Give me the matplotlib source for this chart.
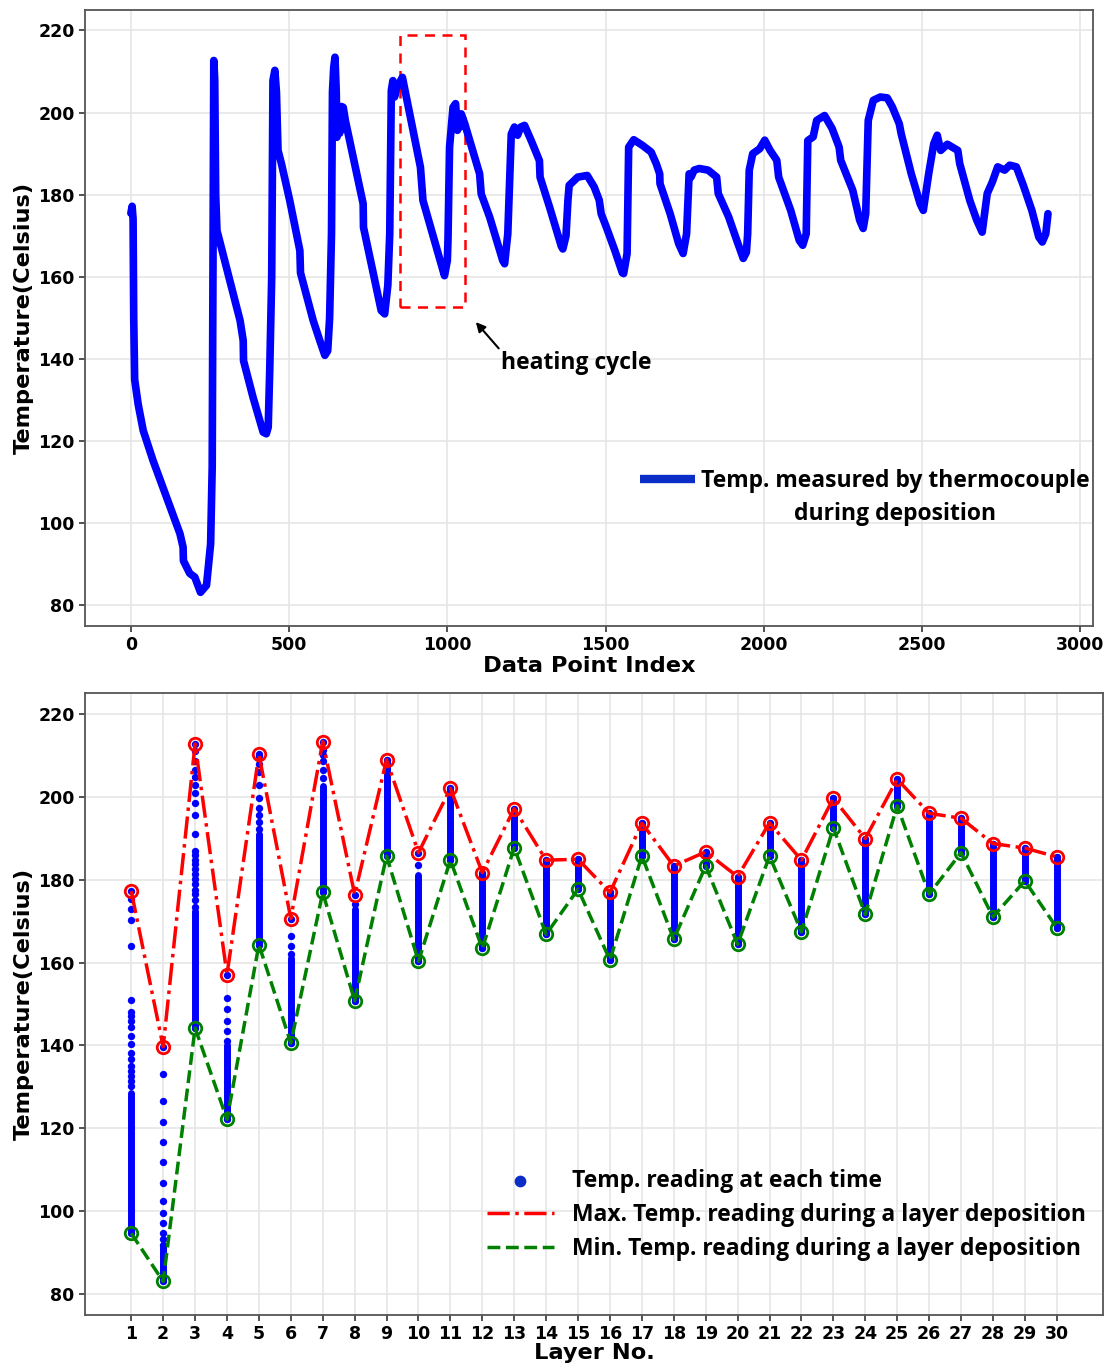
import numpy as np
import matplotlib
matplotlib.use("Agg")
import matplotlib.pyplot as plt
from matplotlib.patches import Rectangle

# ---- data ----
# thermocouple trace (key vertices of the recorded curve)
trace_idx = [0, 4, 7, 9, 12, 23, 39, 70, 155, 165, 166, 186, 202, 220, 239,
             252, 257, 260, 262, 265, 268, 272, 280, 345, 355, 356, 386, 418,
             428, 434, 439, 445, 447, 449, 455, 460, 465, 476, 502, 534, 536,
             576, 597, 613, 622, 628, 634, 637, 641, 645, 649, 651, 655, 660,
             665, 671, 678, 734, 735, 791, 802, 812, 818, 823, 828, 833, 840,
             858, 915, 923, 986, 991, 1000, 1002, 1007, 1018, 1026, 1032, 1036,
             1040, 1044, 1055, 1102, 1107, 1134, 1175, 1181, 1191, 1202, 1212,
             1222, 1232, 1244, 1265, 1291, 1293, 1323, 1360, 1365, 1375, 1381,
             1385, 1412, 1442, 1464, 1480, 1486, 1502, 1529, 1553, 1557, 1568,
             1573, 1589, 1617, 1644, 1660, 1671, 1672, 1704, 1731, 1745, 1756,
             1764, 1770, 1780, 1796, 1824, 1851, 1856, 1889, 1911, 1935, 1945,
             1949, 1954, 1965, 1987, 2003, 2020, 2041, 2047, 2085, 2112, 2123,
             2134, 2139, 2156, 2167, 2192, 2216, 2238, 2243, 2281, 2303, 2314,
             2322, 2330, 2346, 2368, 2390, 2406, 2428, 2434, 2466, 2494, 2504,
             2521, 2537, 2548, 2559, 2580, 2613, 2619, 2651, 2673, 2690, 2706,
             2722, 2739, 2761, 2777, 2798, 2820, 2847, 2869, 2880, 2891, 2898]
trace_temp = [175.5, 177.2, 174.0, 150.0, 135.0, 129.0, 122.6, 115.3, 97.5, 94.2,
              90.9, 87.8, 86.9, 83.2, 84.9, 95.0, 113.7, 170.0, 212.7, 208.0,
              180.0, 171.3, 168.9, 149.4, 144.5, 139.6, 130.7, 122.2, 121.8,
              123.4, 138.0, 160.0, 185.0, 207.8, 210.3, 205.0, 190.8, 187.5,
              178.6, 166.4, 161.0, 149.4, 144.5, 140.9, 142.0, 150.0, 170.6,
              205.0, 211.0, 213.5, 205.0, 194.0, 200.0, 195.0, 201.5, 201.3,
              198.0, 177.8, 172.1, 151.8, 151.0, 158.0, 170.5, 205.4, 207.8,
              203.8, 206.0, 208.6, 186.7, 178.6, 161.6, 160.3, 164.0, 168.9,
              191.6, 201.3, 202.2, 195.7, 199.0, 196.5, 199.7, 197.3, 185.1,
              180.2, 174.5, 164.0, 163.2, 170.5, 194.8, 196.5, 194.5, 196.5,
              196.9, 193.2, 188.3, 184.3, 177.0, 167.5, 166.8, 170.0, 178.6,
              182.3, 184.3, 184.7, 181.9, 178.7, 175.4, 172.2, 166.5, 161.0,
              160.8, 165.7, 191.6, 193.4, 192.0, 190.4, 187.6, 185.1, 182.7,
              175.4, 168.1, 165.7, 170.5, 185.1, 184.3, 186.0, 186.4, 186.0,
              184.3, 180.3, 174.6, 169.7, 164.5, 166.0, 170.5, 186.0, 190.0,
              191.2, 193.3, 190.8, 188.4, 184.3, 176.2, 168.9, 167.7, 170.5,
              193.2, 194.1, 198.1, 199.3, 196.1, 191.6, 188.4, 181.1, 173.8,
              171.8, 175.4, 198.1, 203.0, 203.8, 203.6, 201.4, 197.3, 194.9,
              185.1, 177.8, 176.2, 185.1, 192.4, 194.5, 190.8, 192.3, 190.8,
              187.6, 178.6, 173.8, 170.9, 180.3, 183.1, 186.8, 186.0, 187.2,
              186.8, 182.3, 176.2, 169.7, 168.5, 170.5, 175.4]

# per-layer statistics
layers = list(range(1, 31))
t_max = [177.2, 139.7, 212.7, 157.1, 210.2, 170.6, 213.3, 176.4, 208.9, 186.5,
         202.0, 181.7, 197.1, 184.7, 184.9, 176.9, 193.6, 183.3, 186.7, 180.7,
         193.7, 184.7, 199.6, 189.9, 204.2, 196.0, 194.8, 188.7, 187.6, 185.5]
t_min = [94.7, 83.1, 144.2, 122.2, 164.3, 140.6, 176.9, 150.8, 185.7, 160.3,
         184.7, 163.4, 187.7, 166.8, 177.7, 160.6, 185.7, 165.6, 183.3, 164.4,
         185.7, 167.4, 192.5, 171.6, 197.8, 176.5, 186.5, 171.0, 179.7, 168.4]
# upper end of the densely packed readings in each layer
dense_hi = [128.5, 91.5, 172.5, 140.0, 191.0, 161.0, 202.5, 173.0, 208.9, 181.0,
            202.0, 181.7, 197.1, 184.7, 184.9, 176.9, 193.6, 183.3, 186.7, 180.7,
            193.7, 184.7, 199.6, 189.9, 204.2, 196.0, 194.8, 188.7, 187.6, 185.5]
# separated readings above the dense part
sparse = {
    1: [130.2, 131.4, 132.7, 133.9, 135.1, 136.7, 138.3, 140.3, 142.4, 144.4,
        146.0, 147.2, 148.0, 151.0, 163.9, 170.2, 173.0, 175.4],
    2: [91.9, 93.3, 94.9, 97.1, 99.5, 102.5, 106.9, 111.8, 116.8, 121.6, 126.7, 133.1],
    3: [173.4, 175.0, 176.5, 177.6, 178.9, 180.1, 181.3, 182.5, 183.7, 184.8,
        185.9, 186.9, 191.1, 195.5, 198.4, 200.8, 202.8, 204.7, 206.5, 208.5, 210.9],
    4: [141.0, 143.5, 146.0, 148.8, 151.5],
    5: [192.3, 194.0, 195.6, 197.2, 199.6, 202.8, 206.0, 208.0, 209.7],
    6: [162.1, 164.1, 166.5],
    7: [204.4, 206.5, 208.5, 210.1, 211.3],
    8: [174.2],
    10: [183.5],
}

LEG_FONT = {"family": "Open Sans", "weight": "bold", "size": 16.5}
BLUE = "#0000ff"
LEG_BLUE = "#0a2dc8"

fig = plt.figure(figsize=(11.08, 13.65), dpi=100)
ax1 = fig.add_axes([0.0767, 0.5414, 0.9097, 0.4513])
ax2 = fig.add_axes([0.0767, 0.0366, 0.9188, 0.4557])


def style_axes(ax):
    ax.grid(True, color="#e6e6e6", lw=1.2)
    ax.set_axisbelow(True)
    for sp in ax.spines.values():
        sp.set_color("#555555")
        sp.set_linewidth(1.3)
    ax.tick_params(colors="#333333", labelcolor="black", length=4, width=1.2,
                   labelsize=12.5)
    for lab in ax.get_xticklabels() + ax.get_yticklabels():
        lab.set_fontweight("bold")
    ax.set_yticks(range(80, 221, 20))
    ax.set_ylim(75, 225)


# ---- top: raw trace ----
ax1.plot(trace_idx, trace_temp, color=BLUE, lw=5.5, solid_joinstyle="round",
         solid_capstyle="round", label="Temp. measured by thermocouple")
ax1.set_xlim(-145, 3040)
ax1.set_xticks(range(0, 3001, 500))
style_axes(ax1)
ax1.set_xlabel("Data Point Index", fontsize=16.2, fontweight="bold", labelpad=1)
ax1.set_ylabel("Temperature(Celsius)", fontsize=16.2, fontweight="bold", labelpad=3)

ax1.add_patch(Rectangle((849, 152.6), 206, 66.2, fill=False, ec="red",
                        ls=(0, (4, 3)), lw=1.8))
ax1.annotate("heating cycle", xy=(1090, 149), xytext=(1170, 139),
             ha="left", va="center", family="Open Sans", weight="bold",
             fontsize=16.5,
             arrowprops=dict(arrowstyle="-|>", color="black", lw=1.5,
                             relpos=(0, 1), shrinkA=0, shrinkB=0,
                             mutation_scale=14))

leg1 = ax1.legend(loc="upper left", bbox_to_anchor=(0.5506, 0.255), frameon=False,
                  prop=LEG_FONT, handlelength=2.4, handletextpad=0.26,
                  borderaxespad=0, borderpad=0)
h1 = leg1.get_lines()[0]
h1.set_linewidth(6)
h1.set_solid_capstyle("butt")
h1.set_color(LEG_BLUE)
ax1.text(0.8036, 0.182, "during deposition", transform=ax1.transAxes,
         ha="center", va="center", **LEG_FONT)

# ---- bottom: per-layer readings ----
ax2.vlines(layers, t_min, dense_hi, color=BLUE, lw=5, capstyle="round", zorder=2)
for lay, vals in sparse.items():
    ax2.scatter([lay] * len(vals), vals, s=28, color=BLUE, zorder=2, lw=0)
ax2.scatter(layers + layers, t_max + t_min, s=28, color=BLUE, zorder=2, lw=0,
            label="Temp. reading at each time")
ax2.plot(layers, t_max, color="red", ls="-.", lw=2.5, marker="o", ms=9,
         mfc="none", mec="red", mew=2, zorder=3,
         label="Max. Temp. reading during a layer deposition")
ax2.plot(layers, t_min, color="green", ls="--", lw=2.5, marker="o", ms=9,
         mfc="none", mec="green", mew=2, zorder=3,
         label="Min. Temp. reading during a layer deposition")
ax2.set_xlim(-0.45, 31.45)
ax2.set_xticks(layers)
style_axes(ax2)
ax2.set_xlabel("Layer No.", fontsize=16.2, fontweight="bold", labelpad=0)
ax2.set_ylabel("Temperature(Celsius)", fontsize=16.2, fontweight="bold", labelpad=3)

leg2 = ax2.legend(loc="upper left", bbox_to_anchor=(0.395, 0.234), frameon=False,
                  prop=LEG_FONT, handlelength=2.9, handletextpad=0.79,
                  labelspacing=0.42, borderaxespad=0, borderpad=0,
                  markerscale=1.6)
leg2.legend_handles[0].set_color(LEG_BLUE)
leg2.legend_handles[1].set_marker("")
leg2.legend_handles[2].set_marker("")

fig.savefig("out.png", dpi=100)
